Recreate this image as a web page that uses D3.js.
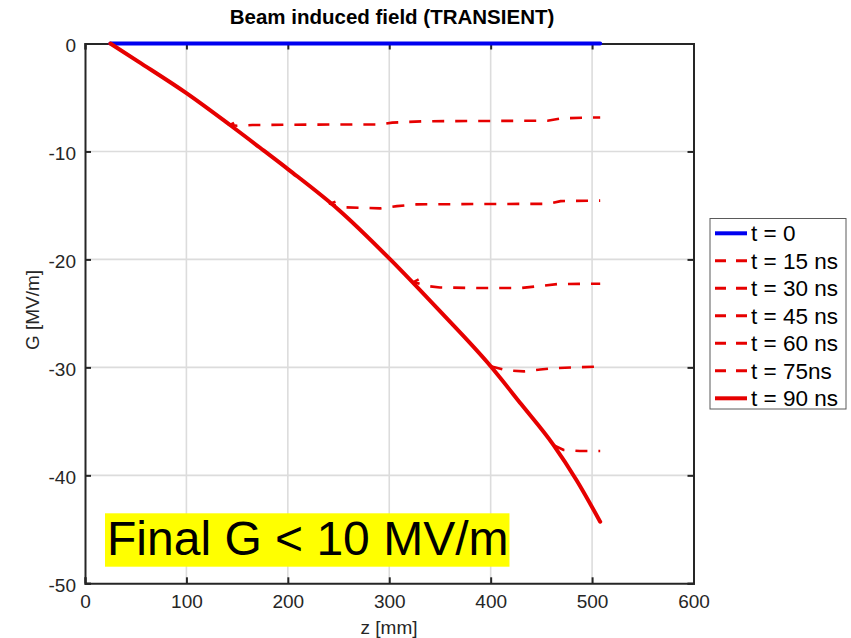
<!DOCTYPE html>
<html>
<head>
<meta charset="utf-8">
<script src="https://cdn.jsdelivr.net/npm/d3@7"></script>
<style>
  html, body { margin: 0; padding: 0; background: #fff; }
  svg { display: block; font-family: "Liberation Sans", Arial, Helvetica, sans-serif; }
</style>
</head>
<body>
<svg id="chart" width="851" height="638"></svg>
<script>
// Beam induced gradient G(z) at successive times after the bunch passes.
const zTicks = [0, 100, 200, 300, 400, 500, 600];
const gTicks = [0, -10, -20, -30, -40, -50];

const z_t0 = [25, 508];
const g_t0 = [0, 0];

const z_t15 = [147, 143, 150, 165, 250, 290, 303, 334, 456, 470, 501, 508];
const g_t15 = [-7.35, -7.55, -7.62, -7.55, -7.5, -7.5, -7.33, -7.2, -7.15, -6.93, -6.85, -6.85];

const z_t30 = [247, 241.5, 256, 291, 307.6, 327, 390, 456, 469, 508];
const g_t30 = [-14.65, -14.85, -15.17, -15.27, -15.06, -14.9, -14.87, -14.85, -14.6, -14.55];

const z_t45 = [329, 324, 337, 350, 390, 430, 449, 466, 508];
const g_t45 = [-21.85, -22.1, -22.46, -22.6, -22.65, -22.65, -22.46, -22.28, -22.25];

const z_t60 = [400, 416, 433, 449, 462, 488, 508];
const g_t60 = [-29.9, -30.27, -30.37, -30.2, -30.07, -29.98, -29.93];

const z_t75 = [462, 472, 488, 508];
const g_t75 = [-37.2, -37.65, -37.75, -37.75];

const z_t90 = [25, 53, 100, 143, 176, 201, 250, 301, 350, 400, 430, 462, 485, 508];
const g_t90 = [0, -1.7, -4.6, -7.55, -9.9, -11.7, -15.4, -20.0, -24.8, -29.9, -33.4, -37.2, -40.5, -44.3];

const legendLabels = ["t = 0", "t = 15 ns", "t = 30 ns", "t = 45 ns", "t = 60 ns", "t = 75ns", "t = 90 ns"];

const RED = "#e60000";
const BLUE = "#0000f0";

const series = [
  { z: z_t0,  g: g_t0,  color: BLUE, width: 4,   dash: null, smooth: true },
  { z: z_t15, g: g_t15, color: RED,  width: 2.6, dash: "12,11", smooth: false },
  { z: z_t30, g: g_t30, color: RED,  width: 2.6, dash: "12,11", smooth: false },
  { z: z_t45, g: g_t45, color: RED,  width: 2.6, dash: "12,11", smooth: false },
  { z: z_t60, g: g_t60, color: RED,  width: 2.6, dash: "12,11", smooth: false },
  { z: z_t75, g: g_t75, color: RED,  width: 2.6, dash: "12,11", smooth: false },
  { z: z_t90, g: g_t90, color: RED,  width: 4,   dash: null, smooth: true }
];

const svg = d3.select("#chart");
const plotLeft = 85, plotRight = 693.5, plotTop = 43.5, plotBottom = 583.3;

const x = d3.scaleLinear().domain([0, 600]).range([plotLeft, plotRight]);
const y = d3.scaleLinear().domain([-50, 0]).range([plotBottom, plotTop]);

const axisColor = "#262626";
const tickFont = "19px";

// grid
const grid = svg.append("g");
grid.selectAll("line.vg").data(zTicks.slice(1, -1)).enter().append("line")
  .attr("x1", d => x(d)).attr("x2", d => x(d))
  .attr("y1", plotTop).attr("y2", plotBottom)
  .attr("stroke", "#dcdcdc").attr("stroke-width", 1.6);
grid.selectAll("line.hg").data(gTicks.slice(1, -1)).enter().append("line")
  .attr("x1", plotLeft).attr("x2", plotRight)
  .attr("y1", d => y(d)).attr("y2", d => y(d))
  .attr("stroke", "#dcdcdc").attr("stroke-width", 1.6);

// axes with inward ticks on all four sides
const tickLen = 6;
const fmt = d => String(d);
const xb = svg.append("g").attr("transform", `translate(0,${plotBottom})`)
  .call(d3.axisBottom(x).tickValues(zTicks).tickSize(-tickLen).tickPadding(12).tickFormat(fmt));
const xt = svg.append("g").attr("transform", `translate(0,${plotTop})`)
  .call(d3.axisTop(x).tickValues(zTicks).tickSize(-tickLen).tickFormat(""));
const yl = svg.append("g").attr("transform", `translate(${plotLeft},0)`)
  .call(d3.axisLeft(y).tickValues(gTicks).tickSize(-tickLen).tickPadding(9).tickFormat(fmt));
const yr = svg.append("g").attr("transform", `translate(${plotRight},0)`)
  .call(d3.axisRight(y).tickValues(gTicks).tickSize(-tickLen).tickFormat(""));

[xb, xt, yl, yr].forEach(g => {
  g.attr("font-size", null).attr("font-family", null);
  g.select(".domain").attr("stroke", axisColor).attr("stroke-width", 2);
  g.selectAll(".tick line").attr("stroke", axisColor).attr("stroke-width", 2);
  g.selectAll(".tick text").attr("fill", axisColor).style("font-size", tickFont);
});
xb.selectAll(".tick text").attr("dy", "0.68em");
yl.selectAll(".tick text").attr("dy", "0.42em");

// title and axis labels
svg.append("text").attr("x", 392).attr("y", 24).attr("text-anchor", "middle")
  .style("font-size", "20.5px").style("font-weight", "bold").attr("fill", "#000")
  .text("Beam induced field (TRANSIENT)");
svg.append("text").attr("x", 389).attr("y", 634).attr("text-anchor", "middle")
  .style("font-size", tickFont).attr("fill", axisColor).text("z [mm]");
svg.append("text").attr("transform", "translate(39,310) rotate(-90)").attr("text-anchor", "middle")
  .style("font-size", tickFont).attr("fill", axisColor).text("G [MV/m]");

// data lines
const lineSmooth = d3.line().x(d => x(d[0])).y(d => y(d[1])).curve(d3.curveMonotoneX);
const lineRaw = d3.line().x(d => x(d[0])).y(d => y(d[1]));
series.forEach(s => {
  const pts = s.z.map((z, i) => [z, s.g[i]]);
  svg.append("path").attr("d", (s.smooth ? lineSmooth : lineRaw)(pts))
    .attr("fill", "none").attr("stroke", s.color)
    .attr("stroke-width", s.width)
    .attr("stroke-dasharray", s.dash)
    .attr("stroke-linejoin", "round").attr("stroke-linecap", s.dash ? "butt" : "round");
});

// legend
const lg = svg.append("g");
lg.append("rect").attr("x", 710).attr("y", 218.5).attr("width", 136).attr("height", 190.5)
  .attr("fill", "#fff").attr("stroke", "#5a5a5a").attr("stroke-width", 1);
legendLabels.forEach((lab, i) => {
  const cy = 233.3 + i * 27.5;
  const s = series[i];
  lg.append("line").attr("x1", 715).attr("x2", 747).attr("y1", cy).attr("y2", cy)
    .attr("stroke", s.color).attr("stroke-width", s.dash ? 3 : 4)
    .attr("stroke-dasharray", s.dash ? "11,10" : null);
  lg.append("text").attr("x", 751).attr("y", cy).attr("dy", "0.36em")
    .style("font-size", "22.5px").attr("fill", "#000").text(lab);
});

// highlighted note
const note = svg.append("g");
const noteRect = note.append("rect").attr("fill", "#ffff00");
const noteText = note.append("text").attr("x", 107).attr("y", 555)
  .style("font-size", "48px").attr("fill", "#000").text("Final G < 10 MV/m");
const bb = noteText.node().getBBox();
noteRect.attr("x", 105).attr("y", 513.3).attr("width", bb.width + 3).attr("height", 53.4);
</script>
</body>
</html>
